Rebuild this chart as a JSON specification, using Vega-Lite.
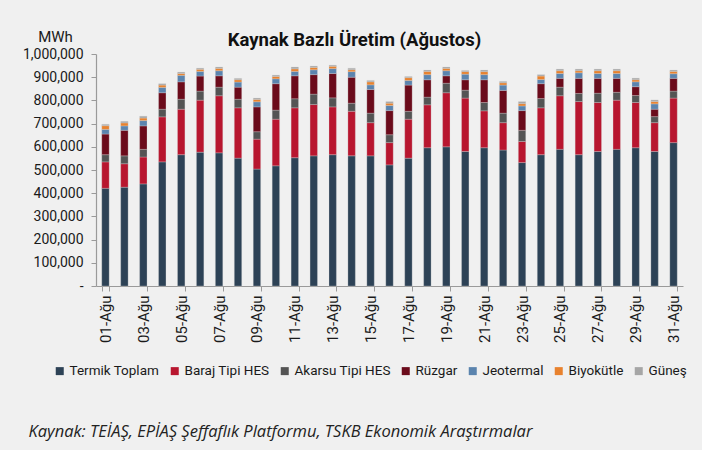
{
  "$schema": "https://vega.github.io/schema/vega-lite/v6.json",
  "autosize": {"type": "none"},
  "padding": {"left": 96, "top": 54, "right": 19, "bottom": 164},
  "width": 587,
  "height": 232,
  "background": "#f0f0f0",
  "config": {
    "view": {"stroke": null},
    "font": "Roboto"
  },
  "title": {
    "text": "Kaynak Bazlı Üretim (Ağustos)",
    "fontSize": 18.5,
    "fontWeight": "bold",
    "color": "#111111",
    "anchor": "middle",
    "dx": -35,
    "baseline": "alphabetic",
    "offset": -35
  },
  "datasets": {
    "order": [
      {"source": "Termik Toplam", "rank": 1},
      {"source": "Baraj Tipi HES", "rank": 2},
      {"source": "Akarsu Tipi HES", "rank": 3},
      {"source": "Rüzgar", "rank": 4},
      {"source": "Jeotermal", "rank": 5},
      {"source": "Biyokütle", "rank": 6},
      {"source": "Güneş", "rank": 7}
    ]
  },
  "data": {
    "values": [
      {"day": "01-Ağu", "Termik Toplam": 421000, "Baraj Tipi HES": 114000, "Akarsu Tipi HES": 31000, "Rüzgar": 89000, "Jeotermal": 20000, "Biyokütle": 16000, "Güneş": 6000},
      {"day": "02-Ağu", "Termik Toplam": 426000, "Baraj Tipi HES": 101000, "Akarsu Tipi HES": 34000, "Rüzgar": 110000, "Jeotermal": 19000, "Biyokütle": 13000, "Güneş": 7000},
      {"day": "03-Ağu", "Termik Toplam": 440000, "Baraj Tipi HES": 116000, "Akarsu Tipi HES": 33000, "Rüzgar": 101000, "Jeotermal": 23000, "Biyokütle": 11000, "Güneş": 8000},
      {"day": "04-Ağu", "Termik Toplam": 535000, "Baraj Tipi HES": 194000, "Akarsu Tipi HES": 33000, "Rüzgar": 71000, "Jeotermal": 23000, "Biyokütle": 10000, "Güneş": 6000},
      {"day": "05-Ağu", "Termik Toplam": 566000, "Baraj Tipi HES": 196000, "Akarsu Tipi HES": 43000, "Rüzgar": 75000, "Jeotermal": 28000, "Biyokütle": 8000, "Güneş": 6000},
      {"day": "06-Ağu", "Termik Toplam": 577000, "Baraj Tipi HES": 224000, "Akarsu Tipi HES": 39000, "Rüzgar": 65000, "Jeotermal": 20000, "Biyokütle": 9000, "Güneş": 5000},
      {"day": "07-Ağu", "Termik Toplam": 574000, "Baraj Tipi HES": 246000, "Akarsu Tipi HES": 37000, "Rüzgar": 49000, "Jeotermal": 22000, "Biyokütle": 10000, "Güneş": 6000},
      {"day": "08-Ağu", "Termik Toplam": 551000, "Baraj Tipi HES": 217000, "Akarsu Tipi HES": 37000, "Rüzgar": 52000, "Jeotermal": 22000, "Biyokütle": 10000, "Güneş": 6000},
      {"day": "09-Ağu", "Termik Toplam": 504000, "Baraj Tipi HES": 129000, "Akarsu Tipi HES": 32000, "Rüzgar": 107000, "Jeotermal": 22000, "Biyokütle": 10000, "Güneş": 6000},
      {"day": "10-Ağu", "Termik Toplam": 518000, "Baraj Tipi HES": 201000, "Akarsu Tipi HES": 39000, "Rüzgar": 114000, "Jeotermal": 21000, "Biyokütle": 10000, "Güneş": 6000},
      {"day": "11-Ağu", "Termik Toplam": 553000, "Baraj Tipi HES": 215000, "Akarsu Tipi HES": 39000, "Rüzgar": 99000, "Jeotermal": 19000, "Biyokütle": 11000, "Güneş": 8000},
      {"day": "12-Ağu", "Termik Toplam": 561000, "Baraj Tipi HES": 221000, "Akarsu Tipi HES": 45000, "Rüzgar": 84000, "Jeotermal": 21000, "Biyokütle": 10000, "Güneş": 6000},
      {"day": "13-Ağu", "Termik Toplam": 566000, "Baraj Tipi HES": 206000, "Akarsu Tipi HES": 39000, "Rüzgar": 105000, "Jeotermal": 21000, "Biyokütle": 10000, "Güneş": 5000},
      {"day": "14-Ağu", "Termik Toplam": 561000, "Baraj Tipi HES": 192000, "Akarsu Tipi HES": 35000, "Rüzgar": 112000, "Jeotermal": 24000, "Biyokütle": 8000, "Güneş": 7000},
      {"day": "15-Ağu", "Termik Toplam": 561000, "Baraj Tipi HES": 143000, "Akarsu Tipi HES": 41000, "Rüzgar": 102000, "Jeotermal": 20000, "Biyokütle": 13000, "Güneş": 6000},
      {"day": "16-Ağu", "Termik Toplam": 522000, "Baraj Tipi HES": 96000, "Akarsu Tipi HES": 34000, "Rüzgar": 104000, "Jeotermal": 22000, "Biyokütle": 10000, "Güneş": 7000},
      {"day": "17-Ağu", "Termik Toplam": 551000, "Baraj Tipi HES": 168000, "Akarsu Tipi HES": 34000, "Rüzgar": 113000, "Jeotermal": 20000, "Biyokütle": 12000, "Güneş": 5000},
      {"day": "18-Ağu", "Termik Toplam": 596000, "Baraj Tipi HES": 185000, "Akarsu Tipi HES": 33000, "Rüzgar": 75000, "Jeotermal": 22000, "Biyokütle": 14000, "Güneş": 6000},
      {"day": "19-Ağu", "Termik Toplam": 600000, "Baraj Tipi HES": 233000, "Akarsu Tipi HES": 41000, "Rüzgar": 32000, "Jeotermal": 22000, "Biyokütle": 10000, "Güneş": 6000},
      {"day": "20-Ağu", "Termik Toplam": 580000, "Baraj Tipi HES": 230000, "Akarsu Tipi HES": 34000, "Rüzgar": 45000, "Jeotermal": 24000, "Biyokütle": 11000, "Güneş": 5000},
      {"day": "21-Ağu", "Termik Toplam": 596000, "Baraj Tipi HES": 159000, "Akarsu Tipi HES": 36000, "Rüzgar": 98000, "Jeotermal": 22000, "Biyokütle": 13000, "Güneş": 7000},
      {"day": "22-Ağu", "Termik Toplam": 586000, "Baraj Tipi HES": 118000, "Akarsu Tipi HES": 41000, "Rüzgar": 98000, "Jeotermal": 23000, "Biyokütle": 10000, "Güneş": 6000},
      {"day": "23-Ağu", "Termik Toplam": 532000, "Baraj Tipi HES": 91000, "Akarsu Tipi HES": 48000, "Rüzgar": 85000, "Jeotermal": 20000, "Biyokütle": 10000, "Güneş": 9000},
      {"day": "24-Ağu", "Termik Toplam": 566000, "Baraj Tipi HES": 202000, "Akarsu Tipi HES": 40000, "Rüzgar": 64000, "Jeotermal": 18000, "Biyokütle": 15000, "Güneş": 6000},
      {"day": "25-Ağu", "Termik Toplam": 589000, "Baraj Tipi HES": 231000, "Akarsu Tipi HES": 37000, "Rüzgar": 38000, "Jeotermal": 21000, "Biyokütle": 12000, "Güneş": 7000},
      {"day": "26-Ağu", "Termik Toplam": 566000, "Baraj Tipi HES": 229000, "Akarsu Tipi HES": 35000, "Rüzgar": 65000, "Jeotermal": 24000, "Biyokütle": 9000, "Güneş": 7000},
      {"day": "27-Ağu", "Termik Toplam": 580000, "Baraj Tipi HES": 211000, "Akarsu Tipi HES": 40000, "Rüzgar": 64000, "Jeotermal": 21000, "Biyokütle": 12000, "Güneş": 7000},
      {"day": "28-Ağu", "Termik Toplam": 589000, "Baraj Tipi HES": 212000, "Akarsu Tipi HES": 34000, "Rüzgar": 60000, "Jeotermal": 21000, "Biyokütle": 12000, "Güneş": 7000},
      {"day": "29-Ağu", "Termik Toplam": 596000, "Baraj Tipi HES": 195000, "Akarsu Tipi HES": 30000, "Rüzgar": 38000, "Jeotermal": 21000, "Biyokütle": 9000, "Güneş": 7000},
      {"day": "30-Ağu", "Termik Toplam": 580000, "Baraj Tipi HES": 124000, "Akarsu Tipi HES": 26000, "Rüzgar": 32000, "Jeotermal": 23000, "Biyokütle": 10000, "Güneş": 7000},
      {"day": "31-Ağu", "Termik Toplam": 618000, "Baraj Tipi HES": 192000, "Akarsu Tipi HES": 30000, "Rüzgar": 55000, "Jeotermal": 20000, "Biyokütle": 10000, "Güneş": 6000}
    ]
  },
  "transform": [
    {"fold": ["Termik Toplam", "Baraj Tipi HES", "Akarsu Tipi HES", "Rüzgar", "Jeotermal", "Biyokütle", "Güneş"], "as": ["source", "value"]},
    {"lookup": "source", "from": {"data": {"name": "order"}, "key": "source", "fields": ["rank"]}}
  ],
  "mark": {"type": "bar", "stroke": "#d8d8d8", "strokeWidth": 0.4, "strokeOpacity": 0.7},
  "encoding": {
    "x": {
      "field": "day",
      "type": "ordinal",
      "sort": null,
      "scale": {"paddingInner": 0.61, "paddingOuter": 0.305},
      "axis": {
        "values": ["01-Ağu", "03-Ağu", "05-Ağu", "07-Ağu", "09-Ağu", "11-Ağu", "13-Ağu", "15-Ağu", "17-Ağu", "19-Ağu", "21-Ağu", "23-Ağu", "25-Ağu", "27-Ağu", "29-Ağu", "31-Ağu"],
        "tickBand": "extent",
        "labelAngle": -90,
        "labelFontSize": 15,
        "labelColor": "#1a1a1a",
        "labelPadding": 4,
        "tickSize": 5,
        "tickColor": "#9a9a9a",
        "domainColor": "#9a9a9a",
        "domainWidth": 1.2,
        "title": "Kaynak: TEİAŞ, EPİAŞ Şeffaflık Platformu, TSKB Ekonomik Araştırmalar",
        "titleFont": "Open Sans",
        "titleFontStyle": "italic",
        "titleFontWeight": "normal",
        "titleFontSize": 16.5,
        "titleColor": "#222222",
        "titleAlign": "left",
        "titleBaseline": "alphabetic",
        "titleX": -68,
        "titleY": 150
      }
    },
    "y": {
      "field": "value",
      "type": "quantitative",
      "stack": "zero",
      "scale": {"domain": [0, 1000000], "nice": false},
      "axis": {
        "values": [0, 100000, 200000, 300000, 400000, 500000, 600000, 700000, 800000, 900000, 1000000],
        "labelExpr": "datum.value == 0 ? '-' : format(datum.value, ',')",
        "labelFontSize": 14,
        "labelColor": "#1a1a1a",
        "labelPadding": 8,
        "tickSize": 5,
        "tickColor": "#9a9a9a",
        "domainColor": "#9a9a9a",
        "domainWidth": 1.2,
        "grid": false,
        "title": "MWh",
        "titleAngle": 0,
        "titleAlign": "center",
        "titleBaseline": "alphabetic",
        "titleFontWeight": "normal",
        "titleFontSize": 15,
        "titleColor": "#1a1a1a",
        "titleX": -41,
        "titleY": -13
      }
    },
    "color": {
      "field": "source",
      "type": "nominal",
      "scale": {
        "domain": ["Termik Toplam", "Baraj Tipi HES", "Akarsu Tipi HES", "Rüzgar", "Jeotermal", "Biyokütle", "Güneş"],
        "range": ["#2d4256", "#b8162f", "#545454", "#6b0b1b", "#5b84ae", "#e8822e", "#a6a6a6"]
      },
      "legend": {
        "title": null,
        "orient": "none",
        "direction": "horizontal",
        "columns": 7,
        "legendX": -43,
        "legendY": 310,
        "symbolType": "square",
        "symbolSize": 64,
        "symbolStrokeWidth": 0,
        "labelFontSize": 13.5,
        "labelColor": "#1a1a1a",
        "labelOffset": 3,
        "columnPadding": 8
      }
    },
    "order": {"field": "rank", "type": "quantitative", "sort": "ascending"}
  }
}
